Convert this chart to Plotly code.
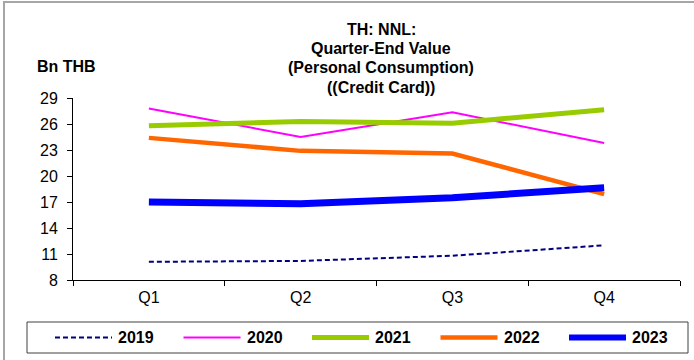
import plotly.graph_objects as go

# Quarter-end outstanding value, Bn THB
quarters = ["Q1", "Q2", "Q3", "Q4"]
years = ["2019", "2020", "2021", "2022", "2023"]
v2019 = [10.1, 10.2, 10.8, 12.0]
v2020 = [27.8, 24.5, 27.35, 23.8]
v2021 = [25.8, 26.3, 26.1, 27.65]
v2022 = [24.4, 22.9, 22.6, 17.9]
v2023 = [17.0, 16.8, 17.5, 18.65]
y_ticks = [8, 11, 14, 17, 20, 23, 26, 29]

series = [v2019, v2020, v2021, v2022, v2023]
colors = ["#000080", "#FF00FF", "#99CC00", "#FF6600", "#0000FF"]
widths = [2, 2, 5, 4.5, 7]
dashes = ["5px,3px", "solid", "solid", "solid", "solid"]

W, H = 694, 360
L, R, T, B = 73, 14, 98, 80
PW, PH = W - L - R, H - T - B
FONT = "Liberation Sans, Arial, sans-serif"


def px(x):
    return (x - L) / PW


def py(y):
    return (H - B - y) / PH


fig = go.Figure()
for name, vals, c, w, d in zip(years, series, colors, widths, dashes):
    fig.add_trace(go.Scatter(
        x=quarters, y=vals, mode="lines", name=name, showlegend=False,
        line=dict(color=c, width=w, dash=d),
    ))

shapes = [
    # outer frame
    dict(type="rect", xref="paper", yref="paper", x0=px(4), x1=px(720), y0=py(400), y1=py(2),
         line=dict(color="#A6A6A6", width=2)),
    # legend box
    dict(type="rect", xref="paper", yref="paper", x0=px(27), x1=px(688), y0=py(353), y1=py(322),
         line=dict(color="#404040", width=1), fillcolor="rgba(0,0,0,0)"),
]
annotations = []
for i, (name, c, w, d) in enumerate(zip(years, colors, widths, dashes)):
    x0 = 55 + 128.5 * i
    shapes.append(dict(type="line", xref="paper", yref="paper", x0=px(x0), x1=px(x0 + 57),
                       y0=py(337.5), y1=py(337.5),
                       line=dict(color=c, width=min(w, 6), dash=d)))
    annotations.append(dict(text="<b>%s</b>" % name, xref="paper", yref="paper", x=px(x0 + 61),
                            y=py(337.5), xanchor="left", yanchor="middle", showarrow=False,
                            font=dict(family=FONT, size=16, color="#000000")))

title_lines = ["TH: NNL:", "Quarter-End Value", "(Personal Consumption)", "((Credit Card))"]
for line, yc in zip(title_lines, [29, 48.5, 68, 87.5]):
    annotations.append(dict(text="<b>%s</b>" % line, xref="paper", yref="paper", x=px(381),
                            y=py(yc), xanchor="center", yanchor="middle", showarrow=False,
                            font=dict(family=FONT, size=16, color="#000000")))

annotations.append(dict(text="<b>Bn THB</b>", xref="paper", yref="paper", x=px(66), y=py(67),
                        xanchor="center", yanchor="middle", showarrow=False,
                        font=dict(family=FONT, size=16, color="#000000")))

fig.update_layout(
    width=W, height=H,
    margin=dict(l=L, r=R, t=T, b=B, pad=0),
    paper_bgcolor="white", plot_bgcolor="white",
    shapes=shapes, annotations=annotations,
    xaxis=dict(
        type="category", range=[-0.5, 3.5], tickson="boundaries",
        showline=True, linecolor="#000000", linewidth=1,
        ticks="outside", ticklen=5, tickcolor="#000000",
        showgrid=False, zeroline=False,
        tickfont=dict(family=FONT, size=16, color="#000000"),
        ticklabelstandoff=3,
    ),
    yaxis=dict(
        range=[8, 29], tickvals=y_ticks,
        showline=True, linecolor="#000000", linewidth=1,
        ticks="outside", ticklen=5, tickcolor="#000000",
        showgrid=False, zeroline=False,
        tickfont=dict(family=FONT, size=16, color="#000000"),
        ticklabelstandoff=6,
    ),
)

fig.write_html("out.html")
